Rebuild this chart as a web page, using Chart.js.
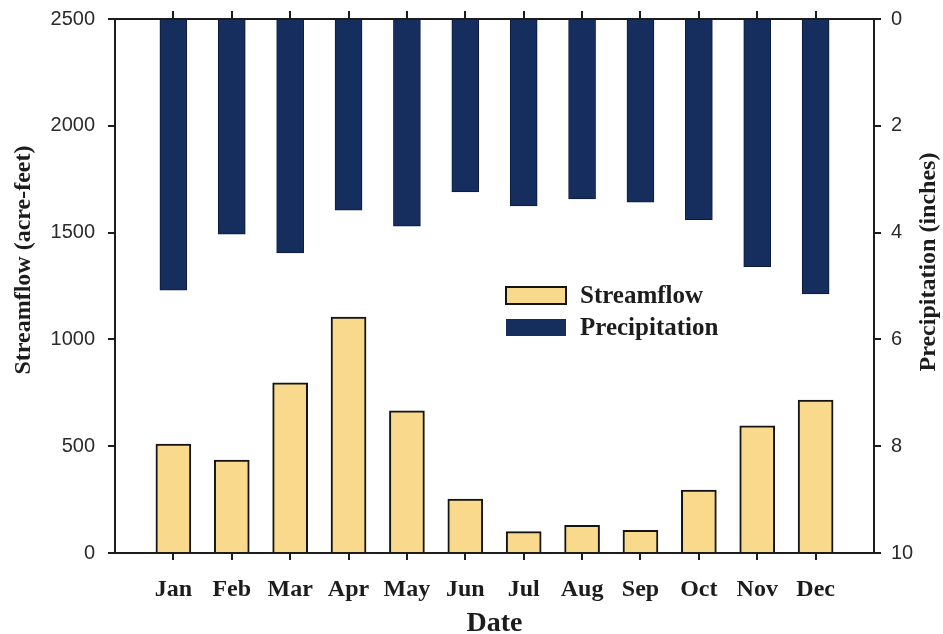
<!DOCTYPE html>
<html>
<head>
<meta charset="utf-8">
<script src="https://cdn.jsdelivr.net/npm/chart.js@4/dist/chart.umd.min.js"></script>
<style>
  html, body { margin: 0; padding: 0; background: #fff; }
  canvas { display: block; }
</style>
</head>
<body>
<canvas id="chart" width="943" height="634"></canvas>
<script>
// monthly values
const months = ['Jan', 'Feb', 'Mar', 'Apr', 'May', 'Jun', 'Jul', 'Aug', 'Sep', 'Oct', 'Nov', 'Dec'];
const streamflow = [510, 435, 797, 1105, 666, 252, 100, 130, 106, 295, 595, 716];
const precipitation = [5.08, 4.03, 4.38, 3.58, 3.88, 3.24, 3.5, 3.37, 3.43, 3.76, 4.64, 5.15];

const leftTitle = 'Streamflow (acre-feet)';
const rightTitle = 'Precipitation (inches)';
const xTitle = 'Date';

const serif = '"Liberation Serif", "Times New Roman", serif';
const sans = '"Liberation Sans", Arial, sans-serif';
const ink = '#1c1c1c';

const monthTicks = scale => {
    scale.ticks = months.map((m, i) => ({ value: i + 1 }));
};

// fixed box sizes so the plot area lands where it is in the figure
const fitBox = (w, h) => s => {
    if (w != null) s.width = w;
    if (h != null) s.height = h;
    s.paddingTop = 0;
    s.paddingBottom = 0;
    s.paddingLeft = 0;
    s.paddingRight = 0;
};

// titles on the sides both read bottom-to-top, and the legend sits inside the plot
const extras = {
    id: 'extras',
    afterDraw(chart) {
        const ctx = chart.ctx;
        ctx.save();
        ctx.fillStyle = ink;
        ctx.textAlign = 'center';
        ctx.textBaseline = 'middle';
        ctx.font = 'bold 24px ' + serif;
        ctx.save();
        ctx.translate(24, 260);
        ctx.rotate(-Math.PI / 2);
        ctx.fillText(leftTitle, 0, 0);
        ctx.restore();
        ctx.save();
        ctx.translate(929, 262);
        ctx.rotate(-Math.PI / 2);
        ctx.fillText(rightTitle, 0, 0);
        ctx.restore();

        // legend
        ctx.textAlign = 'left';
        ctx.font = 'bold 25px ' + serif;
        chart.data.datasets.forEach((ds, i) => {
            const y = 287 + i * 32;
            ctx.fillStyle = ds.backgroundColor;
            ctx.fillRect(506, y, 60, 17);
            if (i === 0) {
                ctx.lineWidth = 2;
                ctx.strokeStyle = ds.borderColor;
                ctx.strokeRect(506, y, 60, 17);
            }
            ctx.fillStyle = ink;
            ctx.fillText(ds.label, 580, y + 10);
        });
        ctx.restore();
    }
};

new Chart(document.getElementById('chart'), {
    type: 'bar',
    data: {
        datasets: [
            {
                label: 'Streamflow',
                data: streamflow.map((v, i) => ({ x: i + 1, y: v })),
                backgroundColor: '#f9d98b',
                borderColor: '#141414',
                borderWidth: 2,
                barThickness: 35,
                grouped: false,
                yAxisID: 'y',
                xAxisID: 'x',
                order: 2
            },
            {
                label: 'Precipitation',
                data: precipitation.map((v, i) => ({ x: i + 1, y: v })),
                backgroundColor: '#152e5e',
                borderColor: '#0d1a38',
                borderWidth: 1,
                barThickness: 27,
                grouped: false,
                yAxisID: 'y2',
                xAxisID: 'x',
                order: 1
            }
        ]
    },
    options: {
        responsive: false,
        animation: false,
        devicePixelRatio: 1,
        layout: { padding: 0 },
        plugins: {
            legend: { display: false },
            tooltip: { enabled: false }
        },
        scales: {
            x: {
                type: 'linear',
                position: 'bottom',
                min: 0,
                max: 13,
                offset: false,
                afterBuildTicks: monthTicks,
                afterFit: fitBox(null, 81),
                grid: { offset: false, drawOnChartArea: false, tickLength: 7, color: ink, lineWidth: 2 },
                border: { display: true, color: ink, width: 2 },
                ticks: {
                    callback: v => months[v - 1] || '',
                    font: { family: serif, size: 24, weight: 'bold' },
                    color: ink,
                    padding: 15,
                    maxRotation: 0,
                    autoSkip: false
                },
                title: {
                    display: true,
                    text: xTitle,
                    font: { family: serif, size: 28, weight: 'bold', lineHeight: 1 },
                    color: ink,
                    padding: { top: 0, bottom: -4 }
                }
            },
            xTop: {
                type: 'linear',
                position: 'top',
                min: 0,
                max: 13,
                offset: false,
                afterBuildTicks: monthTicks,
                afterFit: fitBox(null, 19),
                grid: { offset: false, drawOnChartArea: false, tickLength: 8, color: ink, lineWidth: 2 },
                border: { display: true, color: ink, width: 2 },
                ticks: { display: false }
            },
            y: {
                position: 'left',
                min: 0,
                max: 2500,
                afterFit: fitBox(115, null),
                grid: { drawOnChartArea: false, tickLength: 7, color: ink, lineWidth: 2 },
                border: { display: true, color: ink, width: 2 },
                ticks: {
                    stepSize: 500,
                    callback: v => String(v),
                    font: { family: sans, size: 20 },
                    color: '#2a2a2a',
                    padding: 13
                }
            },
            y2: {
                position: 'right',
                min: 0,
                max: 10,
                reverse: true,
                afterFit: fitBox(69, null),
                grid: { drawOnChartArea: false, tickLength: 7, color: ink, lineWidth: 2 },
                border: { display: true, color: ink, width: 2 },
                ticks: {
                    stepSize: 2,
                    callback: v => String(v),
                    font: { family: sans, size: 20 },
                    color: '#2a2a2a',
                    padding: 10
                }
            }
        }
    },
    plugins: [extras]
});
</script>
</body>
</html>
